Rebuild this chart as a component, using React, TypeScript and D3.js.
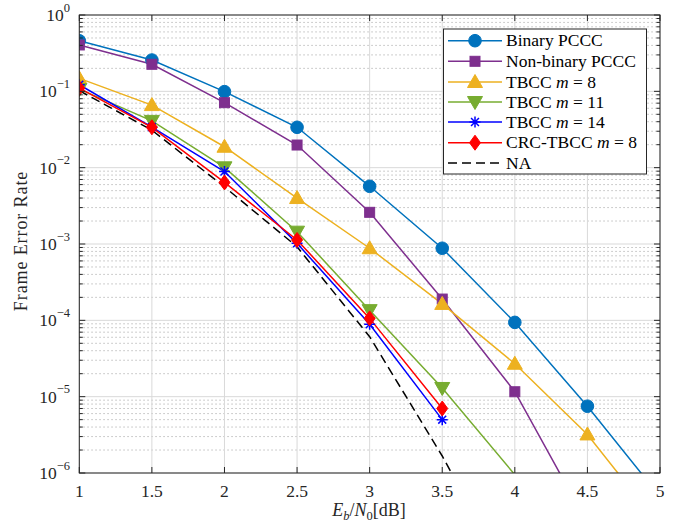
import React from "react";
import * as d3 from "d3";

const xTicks = [1, 1.5, 2, 2.5, 3, 3.5, 4, 4.5, 5];
const xTickLabels = ["1", "1.5", "2", "2.5", "3", "3.5", "4", "4.5", "5"];
const yDecades = [0, -1, -2, -3, -4, -5, -6];

const xBinary = [1, 1.5, 2, 2.5, 3, 3.5, 4, 4.5, 5];
const yBinary = [0.46, 0.257, 0.099, 0.0338, 0.0057, 8.8e-4, 9.4e-5, 7.5e-6, 4.9e-7];
const xNonBinary = [1, 1.5, 2, 2.5, 3, 3.5, 4, 4.5];
const yNonBinary = [0.405, 0.226, 0.071, 0.0198, 0.0026, 1.9e-4, 1.16e-5, 2.2e-7];
const xTbcc8 = [1, 1.5, 2, 2.5, 3, 3.5, 4, 4.5, 5];
const yTbcc8 = [0.148, 0.066, 0.0188, 0.004, 8.8e-4, 1.64e-4, 2.7e-5, 3.2e-6, 2e-7];
const xTbcc11 = [1, 1.5, 2, 2.5, 3, 3.5, 4];
const yTbcc11 = [0.107, 0.041, 0.0101, 1.45e-3, 1.36e-4, 1.3e-5, 9.5e-7];
const xTbcc14 = [1, 1.5, 2, 2.5, 3, 3.5];
const yTbcc14 = [0.122, 0.034, 0.0089, 1.02e-3, 8.9e-5, 5.0e-6];
const xCrc = [1, 1.5, 2, 2.5, 3, 3.5];
const yCrc = [0.11, 0.0338, 0.0064, 1.13e-3, 1.06e-4, 7.0e-6];
const xNA = [1, 1.5, 2, 2.5, 3, 3.5, 4];
const yNA = [0.102, 0.031, 0.0056, 9.2e-4, 6.1e-5, 1.67e-6, 3e-8];

const seriesNames = [
  "Binary PCCC",
  "Non-binary PCCC",
  "TBCC m = 8",
  "TBCC m = 11",
  "TBCC m = 14",
  "CRC-TBCC m = 8",
  "NA",
];

type Marker = "circle" | "square" | "up" | "down" | "star" | "diamond" | "none";

const series: { xs: number[]; ys: number[]; color: string; marker: Marker; dashed?: boolean; label: React.ReactNode }[] = [
  { xs: xBinary, ys: yBinary, color: "#0072BD", marker: "circle", label: <tspan>Binary PCCC</tspan> },
  { xs: xNonBinary, ys: yNonBinary, color: "#7E2F8E", marker: "square", label: <tspan>Non-binary PCCC</tspan> },
  { xs: xTbcc8, ys: yTbcc8, color: "#EDB120", marker: "up", label: <><tspan>TBCC </tspan><tspan fontStyle="italic">m</tspan><tspan> = 8</tspan></> },
  { xs: xTbcc11, ys: yTbcc11, color: "#77AC30", marker: "down", label: <><tspan>TBCC </tspan><tspan fontStyle="italic">m</tspan><tspan> = 11</tspan></> },
  { xs: xTbcc14, ys: yTbcc14, color: "#0000FF", marker: "star", label: <><tspan>TBCC </tspan><tspan fontStyle="italic">m</tspan><tspan> = 14</tspan></> },
  { xs: xCrc, ys: yCrc, color: "#FF0000", marker: "diamond", label: <><tspan>CRC-TBCC </tspan><tspan fontStyle="italic">m</tspan><tspan> = 8</tspan></> },
  { xs: xNA, ys: yNA, color: "#000000", marker: "none", dashed: true, label: <tspan>NA</tspan> },
];

const L = 79.3, R = 660, T = 15, B = 473;
const FONT = '"Liberation Serif", "DejaVu Serif", serif';
const fs = { fontFamily: FONT } as React.CSSProperties;

function MarkerShape({ type, cx, cy, color }: { type: Marker; cx: number; cy: number; color: string }) {
  switch (type) {
    case "circle":
      return <circle cx={cx} cy={cy} r={6.3} fill={color} stroke={color} strokeWidth={1} />;
    case "square":
      return <rect x={cx - 5} y={cy - 5} width={10} height={10} fill={color} stroke={color} strokeWidth={1} />;
    case "up":
      return <path d={`M${cx},${cy - 7.5} L${cx + 7.5},${cy + 5.5} L${cx - 7.5},${cy + 5.5} Z`} fill={color} stroke={color} strokeWidth={1} />;
    case "down":
      return <path d={`M${cx},${cy + 7.5} L${cx + 7.5},${cy - 5.5} L${cx - 7.5},${cy - 5.5} Z`} fill={color} stroke={color} strokeWidth={1} />;
    case "diamond":
      return <path d={`M${cx},${cy - 7.5} L${cx + 5.5},${cy} L${cx},${cy + 7.5} L${cx - 5.5},${cy} Z`} fill={color} stroke={color} strokeWidth={1} />;
    case "star": {
      const r = 5.5, d = r * 0.72;
      return (
        <path
          d={`M${cx},${cy - r}L${cx},${cy + r}M${cx - r},${cy}L${cx + r},${cy}M${cx - d},${cy - d}L${cx + d},${cy + d}M${cx - d},${cy + d}L${cx + d},${cy - d}`}
          stroke={color}
          strokeWidth={1.5}
          fill="none"
        />
      );
    }
    default:
      return null;
  }
}

export default function App() {
  const x = d3.scaleLinear().domain([1, 5]).range([L, R]);
  const y = d3.scaleLog().domain([1e-6, 1]).range([B, T]);

  const minors: number[] = [];
  for (let k = -6; k < 0; k++) {
    for (let m = 2; m <= 9; m++) minors.push(m * Math.pow(10, k));
  }

  const line = d3
    .line<[number, number]>()
    .x((d) => x(d[0]))
    .y((d) => y(d[1]));

  const legendRows = [40.7, 61.3, 82, 102, 122, 142.7, 163];

  return (
    <div style={{ position: "absolute", left: 0, top: 0 }}>
      <svg width={681} height={526} style={{ display: "block", background: "#fff", fontFamily: FONT }}>
        <defs>
          <clipPath id="plotclip">
            <rect x={L} y={T} width={R - L} height={B - T} />
          </clipPath>
        </defs>
        <rect x={0} y={0} width={681} height={526} fill="#fff" />
        {/* minor grid */}
        {minors.map((v, i) => (
          <line key={"mg" + i} x1={L} x2={R} y1={y(v)} y2={y(v)} stroke="#bdbdbd" strokeWidth={1} strokeDasharray="1.5 2.5" />
        ))}
        {/* major grid */}
        {yDecades.map((k) => (
          <line key={"yg" + k} x1={L} x2={R} y1={y(Math.pow(10, k))} y2={y(Math.pow(10, k))} stroke="#d9d9d9" strokeWidth={1} />
        ))}
        {xTicks.map((t) => (
          <line key={"xg" + t} x1={x(t)} x2={x(t)} y1={T} y2={B} stroke="#d9d9d9" strokeWidth={1} />
        ))}

        {/* data */}
        <g clipPath="url(#plotclip)">
          {series.map((s, i) => (
            <path
              key={"l" + i}
              d={line(s.xs.map((v, j) => [v, s.ys[j]] as [number, number])) || ""}
              fill="none"
              stroke={s.color}
              strokeWidth={1.5}
              strokeDasharray={s.dashed ? "9 5" : undefined}
            />
          ))}
          {series.map((s, i) => (
            <g key={"m" + i}>
              {s.xs.map((v, j) =>
                s.ys[j] >= 1e-6 ? <MarkerShape key={j} type={s.marker} cx={x(v)} cy={y(s.ys[j])} color={s.color} /> : null
              )}
            </g>
          ))}
        </g>

        {/* axes box */}
        <rect x={L} y={T} width={R - L} height={B - T} fill="none" stroke="#262626" strokeWidth={1} />
        {/* x ticks */}
        {xTicks.map((t) => (
          <g key={"xt" + t}>
            <line x1={x(t)} x2={x(t)} y1={B} y2={B - 6} stroke="#262626" />
            <line x1={x(t)} x2={x(t)} y1={T} y2={T + 6} stroke="#262626" />
          </g>
        ))}
        {xTicks.map((t, i) => (
          <text key={"xl" + t} x={x(t)} y={497} textAnchor="middle" fontSize={17.5} fill="#262626" style={fs}>
            {xTickLabels[i]}
          </text>
        ))}
        {/* y ticks */}
        {yDecades.map((k) => (
          <g key={"yt" + k}>
            <line x1={L} x2={L + 6} y1={y(Math.pow(10, k))} y2={y(Math.pow(10, k))} stroke="#262626" />
            <line x1={R} x2={R - 6} y1={y(Math.pow(10, k))} y2={y(Math.pow(10, k))} stroke="#262626" />
          </g>
        ))}
        {minors.map((v, i) => (
          <g key={"ymt" + i}>
            <line x1={L} x2={L + 3.5} y1={y(v)} y2={y(v)} stroke="#262626" />
            <line x1={R} x2={R - 3.5} y1={y(v)} y2={y(v)} stroke="#262626" />
          </g>
        ))}
        {yDecades.map((k) => (
          <text key={"yl" + k} x={70} y={y(Math.pow(10, k)) + 6} textAnchor="end" fontSize={17.5} fill="#262626" style={fs}>
            <tspan>10</tspan>
            <tspan dy={-9.5} fontSize={12.5}>{k === 0 ? "0" : "\u2212" + Math.abs(k)}</tspan>
          </text>
        ))}

        {/* axis labels */}
        <text x={369} y={516} textAnchor="middle" fontSize={18} fill="#262626" style={fs}>
          <tspan fontStyle="italic">E</tspan>
          <tspan dy={4} fontSize={12.5} fontStyle="italic">b</tspan>
          <tspan dy={-4}>/</tspan>
          <tspan fontStyle="italic">N</tspan>
          <tspan dy={4} fontSize={12.5}>0</tspan>
          <tspan dy={-4}>[dB]</tspan>
        </text>
        <text
          transform={`translate(27, ${(T + B) / 2 - 3}) rotate(-90)`}
          textAnchor="middle"
          fontSize={18}
          letterSpacing={0.9}
          fill="#262626"
          style={fs}
        >
          Frame Error Rate
        </text>

        {/* legend */}
        <rect x={443.5} y={29} width={203} height={145} fill="#fff" stroke="#262626" strokeWidth={1} />
        {series.map((s, i) => (
          <g key={"lg" + i}>
            <line
              x1={448}
              x2={502}
              y1={legendRows[i]}
              y2={legendRows[i]}
              stroke={s.color}
              strokeWidth={1.5}
              strokeDasharray={s.dashed ? "9 5" : undefined}
            />
            <MarkerShape type={s.marker} cx={475} cy={legendRows[i]} color={s.color} />
            <text x={506} y={legendRows[i] + 5.5} fontSize={17.5} fill="#000" aria-label={seriesNames[i]} style={fs}>
              {s.label}
            </text>
          </g>
        ))}
      </svg>
    </div>
  );
}
